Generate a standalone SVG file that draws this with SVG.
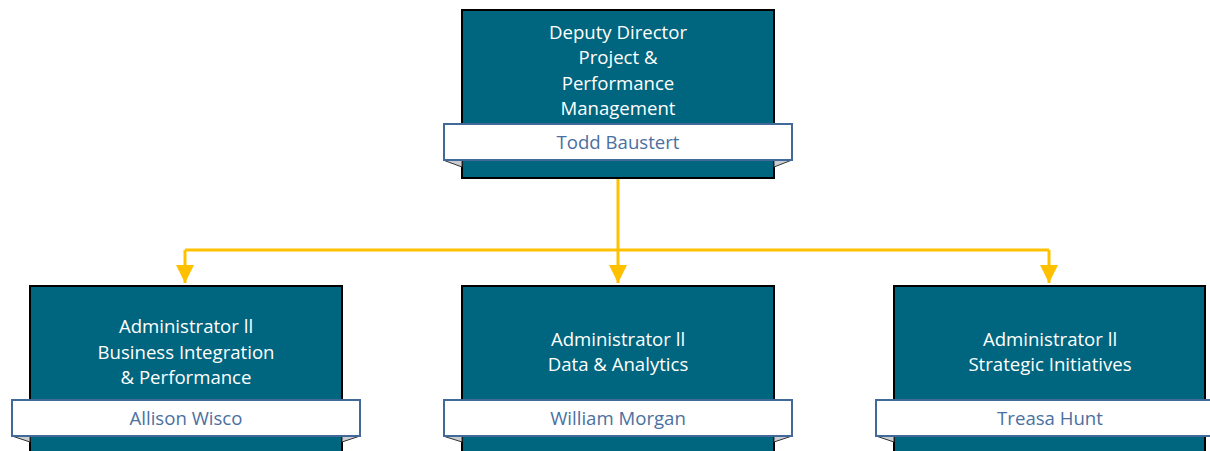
<svg xmlns="http://www.w3.org/2000/svg" width="1210" height="451" viewBox="0 0 1210 451">
<style>
.box{fill:#00657E;stroke:#000;stroke-width:2}
.ban{fill:#fff;stroke:#41699A;stroke-width:2}
.fold{fill:#C9CDD3;stroke:#333;stroke-width:1}
.t{font-family:"Open Sans","Liberation Sans",sans-serif;font-size:18.6px;fill:#fff;text-anchor:middle}
.n{font-family:"Open Sans","Liberation Sans",sans-serif;font-size:18.6px;fill:#4A70A0;text-anchor:middle}
.c{fill:none;stroke:#FFC000;stroke-width:3}
</style>
<defs>
<marker id="ah" markerWidth="6" markerHeight="6" refX="6" refY="3" orient="auto" markerUnits="strokeWidth" viewBox="0 0 6 6">
<path d="M0,0 L6,3 L0,6 z" fill="#FFC000"/>
</marker>
</defs>
<g id="connectors">
<path class="c" d="M618,179 V250"/>
<path class="c" d="M185,250 H1049"/>
<path class="c" d="M185,250 V283" marker-end="url(#ah)"/>
<path class="c" d="M618,250 V283" marker-end="url(#ah)"/>
<path class="c" d="M1049,250 V283" marker-end="url(#ah)"/>
</g>
<g id="top">
<rect class="box" x="462" y="10" width="312" height="168"/>
<path class="fold" d="M443,160 L462,160 L462,167 Z"/>
<path class="fold" d="M792,160 L774,160 L774,167 Z"/>
<rect class="ban" x="444" y="124" width="348" height="36"/>
<text class="t" x="618" y="39">Deputy Director</text>
<text class="t" x="618" y="64">Project &amp;</text>
<text class="t" x="618" y="90">Performance</text>
<text class="t" x="618" y="115">Management</text>
<text class="n" x="618" y="149">Todd Baustert</text>
</g>
<g id="left">
<rect class="box" x="30" y="286" width="312" height="170"/>
<path class="fold" d="M12,436 L30,436 L30,442 Z"/>
<path class="fold" d="M360,436 L342,436 L342,442 Z"/>
<rect class="ban" x="12" y="400" width="348" height="36"/>
<text class="t" x="186" y="333">Administrator ll</text>
<text class="t" x="186" y="359">Business Integration</text>
<text class="t" x="186" y="384">&amp; Performance</text>
<text class="n" x="186" y="425">Allison Wisco</text>
</g>
<g id="middle">
<rect class="box" x="462" y="286" width="312" height="170"/>
<path class="fold" d="M443,436 L462,436 L462,442 Z"/>
<path class="fold" d="M792,436 L774,436 L774,442 Z"/>
<rect class="ban" x="444" y="400" width="348" height="36"/>
<text class="t" x="618" y="346">Administrator ll</text>
<text class="t" x="618" y="371">Data &amp; Analytics</text>
<text class="n" x="618" y="425">William Morgan</text>
</g>
<g id="right">
<rect class="box" x="894" y="286" width="311" height="170"/>
<path class="fold" d="M876,436 L894,436 L894,442 Z"/>
<rect class="ban" x="876" y="400" width="348" height="36"/>
<text class="t" x="1050" y="346">Administrator ll</text>
<text class="t" x="1050" y="371">Strategic Initiatives</text>
<text class="n" x="1050" y="425">Treasa Hunt</text>
</g>
</svg>
